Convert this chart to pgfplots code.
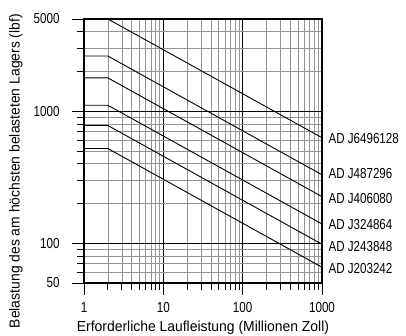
\documentclass[border=0pt]{standalone}
\usepackage{fontspec}
\setmainfont{Liberation Sans}[FakeStretch=0.96]
\newfontfamily\narrowfont{Liberation Sans}[FakeStretch=0.80]
\usepackage{pgfplots}
\pgfplotsset{compat=1.18}
\begin{document}
\begin{tikzpicture}[font=\narrowfont\fontsize{14.5}{17}\selectfont]
\useasboundingbox (-84pt,-53pt) rectangle (322pt,283pt);
\begin{loglogaxis}[
  scale only axis, width=238pt, height=264pt,
  at={(0,0)}, anchor=south west,
  xmin=1, xmax=1000, ymin=50, ymax=5000,
  xtick={1,10,100,1000}, xticklabels={1,10,100,1000},
  ytick={50,100,1000,5000}, yticklabels={50,100,1000,5000},
  minor xtick={2,3,4,5,6,7,8,9,20,30,40,50,60,70,80,90,200,300,400,500,600,700,800,900},
  minor ytick={60,70,80,90,200,300,400,500,600,700,800,900,2000,3000,4000},
  /pgf/number format/assume math mode=true,
  tick label style={font=\narrowfont\fontsize{14.5}{17}\selectfont},
  label style={font=\rmfamily\fontsize{14.5}{17}\selectfont},
  yticklabel style={xshift=-9pt},
  xticklabel style={yshift=-4pt},
  grid=both,
  major grid style={black, line width=1.1pt},
  minor grid style={black!42, line width=0.7pt},
  tick align=outside,
  xtick pos=bottom, ytick pos=left,
  major tick length=12pt, minor tick length=7pt,
  tick style={black, line width=0.9pt},
  axis line style={line width=1.3pt},
  xlabel={Erforderliche Laufleistung (Millionen Zoll)},
  ylabel={Belastung des am höchsten belasteten Lagers (lbf)},
  xlabel style={at={(axis description cs:0.5,-0.170)}, anchor=center},
  ylabel style={at={(axis description cs:-0.286,0.424)}, anchor=center},
  clip=false,
]
\addplot[black, line width=0.9pt] coordinates {(1,5000) (2,5000) (1000,630)};
\addplot[black, line width=0.9pt] coordinates {(1,2620) (2,2620) (1000,330.1)};
\addplot[black, line width=0.9pt] coordinates {(1,1790) (2,1790) (1000,225.5)};
\addplot[black, line width=0.9pt] coordinates {(1,1110) (2,1110) (1000,139.9)};
\addplot[black, line width=0.9pt] coordinates {(1,780) (2,780) (1000,98.3)};
\addplot[black, line width=0.9pt] coordinates {(1,522) (2,522) (1000,65.8)};
\node[anchor=west, xshift=3pt] at (axis cs:1000,617) {AD J6496128};
\node[anchor=west, xshift=3pt] at (axis cs:1000,340) {AD J487296};
\node[anchor=west, xshift=3pt] at (axis cs:1000,220) {AD J406080};
\node[anchor=west, xshift=3pt] at (axis cs:1000,137.5) {AD J324864};
\node[anchor=west, xshift=3pt] at (axis cs:1000,94) {AD J243848};
\node[anchor=west, xshift=3pt] at (axis cs:1000,64.5) {AD J203242};
\end{loglogaxis}
\end{tikzpicture}
\end{document}
